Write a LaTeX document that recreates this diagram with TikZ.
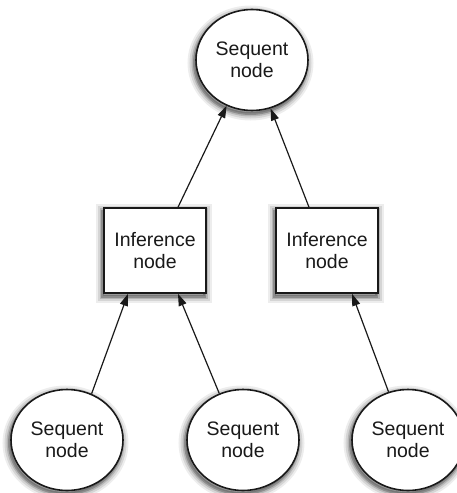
\documentclass[tikz,border=0pt]{standalone}
\usepackage{fontspec}
\setmainfont{Liberation Sans}
\usetikzlibrary{arrows.meta,shapes.geometric}

\tikzset{
  % soft drop shadow built from stacked translucent strokes
  haze/.style={
    preaction={fill=black, fill opacity=0.15, draw=black, draw opacity=0.07,
      line width=14pt, transform canvas={xshift=-1.5pt, yshift=-3pt}},
    preaction={draw=black, draw opacity=0.1, line width=10pt,
      transform canvas={xshift=-1.5pt, yshift=-3pt}},
    preaction={draw=black, draw opacity=0.15, line width=6pt,
      transform canvas={xshift=-1.5pt, yshift=-3pt}},
    preaction={draw=black, draw opacity=0.22, line width=3pt,
      transform canvas={xshift=-1.5pt, yshift=-3pt}}},
  sequent/.style={ellipse, draw=black!90, line width=1.6pt, fill=white,
      minimum width=112pt, minimum height=101pt, inner sep=0pt, haze,
      align=center, font=\fontsize{19.5}{22}\selectfont, text=black!90},
  inference/.style={rectangle, draw=black!90, line width=1.6pt, fill=white,
      minimum width=102pt, minimum height=85pt, inner sep=0pt, haze,
      align=center, font=\fontsize{19.5}{22}\selectfont, text=black!90},
  link/.style={draw=black!90, line width=1.2pt,
      -{Triangle[length=12pt,width=8pt]}}
}

\begin{document}
\begin{tikzpicture}[x=1pt, y=-1pt]
  \useasboundingbox (0,0) rectangle (457,493);

  % conclusion at the root
  \node[sequent] (top) at (252,60) {Sequent\\node};

  % the two inference steps
  \node[inference] (inf1) at (155,250.5) {Inference\\node};
  \node[inference] (inf2) at (327,250.5) {Inference\\node};

  % premises at the leaves
  \node[sequent] (s1) at (67,440)  {Sequent\\node};
  \node[sequent] (s2) at (243,440) {Sequent\\node};
  \node[sequent] (s3) at (408,440) {Sequent\\node};

  % edges point from premises up towards conclusions
  \draw[link] ([xshift=23pt]inf1.north)  -- (top.241);
  \draw[link] ([xshift=-18pt]inf2.north) -- (top.291);
  \draw[link] (s1.62)  -- ([xshift=-27pt]inf1.south);
  \draw[link] (s2.117) -- ([xshift=23pt]inf1.south);
  \draw[link] (s3.112) -- ([xshift=25pt]inf2.south);
\end{tikzpicture}
\end{document}
